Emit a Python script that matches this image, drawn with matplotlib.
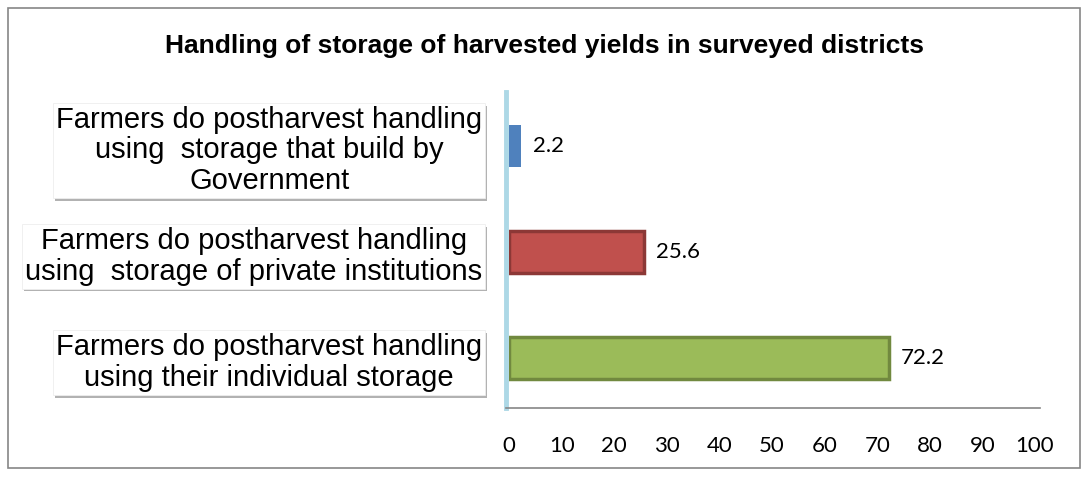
import matplotlib.pyplot as plt
import matplotlib.patheffects as pe
from matplotlib.patches import Rectangle

# data (bottom to top)
categories = [
    "Farmers do postharvest handling\nusing their individual storage",
    "Farmers do postharvest handling\nusing  storage of private institutions",
    "Farmers do postharvest handling\nusing  storage that build by\nGovernment",
]
values = [72.2, 25.6, 2.2]
fill_colors = ["#9BBB59", "#C0504D", "#4F81BD"]
edge_colors = ["#71893F", "#8C3836", "#4F81BD"]
xticks = list(range(0, 101, 10))

fig = plt.figure(figsize=(10.89, 4.79), dpi=100)
ax = fig.add_axes([0.4674, 0.148, 0.483, 0.660])

ypos = list(range(len(values)))
for y, v, fc, ec in zip(ypos, values, fill_colors, edge_colors):
    lw = 0 if ec == fc else 2.5
    ax.barh(y, v, height=0.40, color=fc, edgecolor=ec, linewidth=lw, zorder=3)
    ax.text(v + 2.3, y, f"{v}", va="center", ha="left", fontsize=16,
            family=["Lato", "DejaVu Sans"])

ax.set_xlim(0, 100)
ax.set_ylim(-0.47, 2.51)

for s in ["top", "right"]:
    ax.spines[s].set_visible(False)
ax.spines["left"].set_color("#ADD8E6")
ax.spines["left"].set_linewidth(3.5)
ax.spines["left"].set_position(("data", -0.6))
ax.spines["bottom"].set_color("#868686")
ax.spines["bottom"].set_linewidth(1.2)
ax.spines["bottom"].set_bounds(-0.6, 101)

ax.set_xticks(xticks)
ax.set_xticklabels([str(t) for t in xticks], fontsize=16, family=["Lato", "DejaVu Sans"])
ax.tick_params(axis="x", length=0, pad=20)

ax.set_yticks(ypos)
ax.set_yticklabels(categories, fontsize=21, family=["Liberation Sans", "DejaVu Sans"],
                   multialignment="center", linespacing=1.12)
ax.tick_params(axis="y", length=0, pad=17)
for lab in ax.get_yticklabels():
    lab.set_bbox(dict(boxstyle="square,pad=0.1", facecolor="white", edgecolor="#EEEEEE", linewidth=0.6))
    lab.get_bbox_patch().set_path_effects(
        [pe.SimplePatchShadow(offset=(1.5, -2), shadow_rgbFace="#808080", alpha=0.6), pe.Normal()])

fig.suptitle("Handling of storage of harvested yields in surveyed districts",
             x=0.5, y=0.93, fontsize=19, fontweight="bold",
             family=["Liberation Sans", "DejaVu Sans"])

# chart border
fig.add_artist(Rectangle((0.007, 0.023), 0.985, 0.96, transform=fig.transFigure,
                         fill=False, edgecolor="#868686", linewidth=1.2))

fig.savefig("out.png", dpi=100)
